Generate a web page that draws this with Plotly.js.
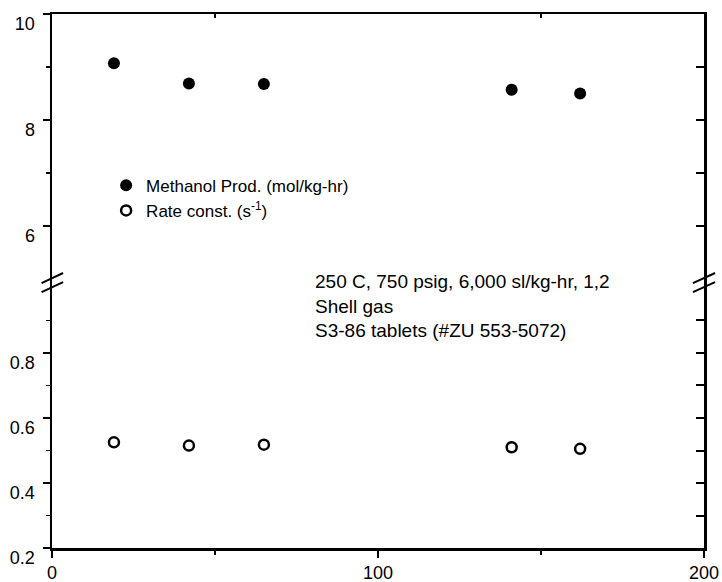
<!DOCTYPE html>
<html>
<head>
<meta charset="utf-8">
<script src="https://cdn.plot.ly/plotly-3.0.1.min.js"></script>
<style>html,body{margin:0;padding:0;background:#fff;}#chart{width:722px;height:582px;}</style>
</head>
<body>
<div id="chart"></div>
<script>
// Data
const timeOnStream = [19, 42, 65, 141, 162];
const methanolProd = [9.07, 8.69, 8.68, 8.57, 8.50];
const rateConst = [0.525, 0.515, 0.518, 0.510, 0.505];
const seriesNames = ["Methanol Prod. (mol/kg-hr)", "Rate const. (s<sup>-1</sup>)"];
const noteLines = ["250 C, 750 psig, 6,000 sl/kg-hr, 1,2", "Shell gas", "S3-86 tablets (#ZU 553-5072)"];
const xTicks = [0, 100, 200];
const lowerTicks = [0.2, 0.4, 0.6, 0.8];
const upperTicks = [6, 8, 10];

const FONT = "Liberation Sans, Arial, Helvetica, sans-serif";
const LOWER_RANGE = [0.2, 1.0215];
const UPPER_RANGE = [4.962, 10.0001];

const traces = [
  {x: timeOnStream, y: methanolProd, name: seriesNames[0], type: "scatter", mode: "markers",
   xaxis: "x", yaxis: "y2",
   marker: {symbol: "circle", size: 12, color: "#000", line: {width: 0}}},
  {x: timeOnStream, y: rateConst, name: seriesNames[1], type: "scatter", mode: "markers",
   xaxis: "x", yaxis: "y",
   marker: {symbol: "circle-open", size: 10, color: "#000", line: {width: 2.5, color: "#000"}}}
];

const axisCommon = {showgrid: false, zeroline: false, showline: true, linecolor: "#000", linewidth: 2.5,
  tickcolor: "#000", tickwidth: 2, tickfont: {family: FONT, size: 18, color: "#000"}};

const layout = {
  width: 722, height: 582,
  margin: {l: 52, r: 18, t: 14, b: 34},
  paper_bgcolor: "#fff", plot_bgcolor: "#fff",
  showlegend: true,
  legend: {x: 0.083, y: 0.712, xanchor: "left", yanchor: "top", bgcolor: "rgba(0,0,0,0)",
    font: {family: FONT, size: 17, color: "#000"}, tracegroupgap: 0, itemwidth: 30},
  xaxis: Object.assign({}, axisCommon, {range: [0, 200], domain: [0, 1], anchor: "y",
    tickmode: "array", tickvals: xTicks, ticks: "outside", ticklen: 7,
    minor: {tickvals: [50, 150], ticks: "outside", ticklen: 4, tickcolor: "#000", tickwidth: 1.5}}),
  xaxis2: Object.assign({}, axisCommon, {range: [0, 200], overlaying: "x", side: "top", anchor: "y2",
    tickmode: "array", tickvals: [50, 150], ticks: "inside", ticklen: 4, showticklabels: false}),
  yaxis: Object.assign({}, axisCommon, {range: LOWER_RANGE, domain: [0, 0.5], anchor: "x",
    tickmode: "array", tickvals: lowerTicks, ticktext: lowerTicks.map(v => v.toFixed(1)),
    ticks: "outside", ticklen: 7, ticklabelshift: 10, ticklabelstandoff: 4,
    minor: {tickvals: [0.3, 0.5, 0.7, 0.9], ticks: "outside", ticklen: 4, tickcolor: "#000", tickwidth: 1.5}}),
  yaxis2: Object.assign({}, axisCommon, {range: UPPER_RANGE, domain: [0.5, 1], anchor: "x",
    tickmode: "array", tickvals: upperTicks, ticks: "outside", ticklen: 7, ticklabelshift: 10, ticklabelstandoff: 4,
    minor: {tickvals: [7, 9], ticks: "outside", ticklen: 4, tickcolor: "#000", tickwidth: 1.5}}),
  yaxis3: Object.assign({}, axisCommon, {range: LOWER_RANGE, overlaying: "y", side: "right", anchor: "x",
    tickmode: "array", tickvals: [0.3, 0.4, 0.5, 0.6, 0.7, 0.8, 0.9], ticks: "inside", ticklen: 8,
    showticklabels: false}),
  yaxis4: Object.assign({}, axisCommon, {range: UPPER_RANGE, overlaying: "y2", side: "right", anchor: "x",
    tickmode: "array", tickvals: [6, 7, 8, 9], ticks: "inside", ticklen: 8,
    showticklabels: false}),
  annotations: [{
    xref: "paper", yref: "paper", x: 0.4, y: 0.522, xanchor: "left", yanchor: "top", align: "left",
    showarrow: false, text: noteLines.join("<br>"),
    font: {family: FONT, size: 19, color: "#000"}
  }],
  shapes: [
    // axis break marks (decoration)
    {type: "line", xref: "paper", yref: "paper", x0: -0.016, y0: 0.496, x1: 0.017, y1: 0.515, line: {color: "#000", width: 2}},
    {type: "line", xref: "paper", yref: "paper", x0: -0.016, y0: 0.479, x1: 0.017, y1: 0.498, line: {color: "#000", width: 2}},
    {type: "line", xref: "paper", yref: "paper", x0: 0.983, y0: 0.496, x1: 1.017, y1: 0.515, line: {color: "#000", width: 2}},
    {type: "line", xref: "paper", yref: "paper", x0: 0.983, y0: 0.479, x1: 1.017, y1: 0.498, line: {color: "#000", width: 2}}
  ]
};

// dummy traces so overlaying axes render
traces.push({x: [null], y: [null], xaxis: "x2", yaxis: "y3", showlegend: false, hoverinfo: "skip", type: "scatter"});
traces.push({x: [null], y: [null], xaxis: "x2", yaxis: "y4", showlegend: false, hoverinfo: "skip", type: "scatter"});

Plotly.newPlot("chart", traces, layout, {staticPlot: true, displayModeBar: false});
</script>
</body>
</html>
